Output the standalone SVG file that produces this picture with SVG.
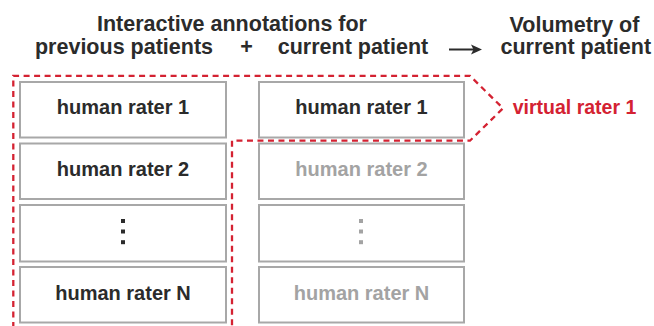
<svg xmlns="http://www.w3.org/2000/svg" width="654" height="326" viewBox="0 0 654 326">
<style>
text{font-family:"Liberation Sans",Arial,sans-serif;font-weight:bold}
.title{font-size:21.5px;fill:#2b2b2b;text-anchor:middle}
.lbl{font-size:20px;text-anchor:middle}
.dark{fill:#2b2b2b}
.grey{fill:#a3a3a3}
.box{fill:#ffffff;stroke:#a8a8a8;stroke-width:2}
.red{fill:none;stroke:#d42232;stroke-width:2.3;stroke-dasharray:6 4.5}
</style>
<rect width="654" height="326" fill="#ffffff"/>
<g id="titles">
<text class="title" x="232" y="31">Interactive annotations for</text>
<text class="title" x="124" y="54.3">previous patients</text>
<text class="title" x="246.5" y="54.3">+</text>
<text class="title" x="353" y="54.3">current patient</text>
<text class="title" x="574.5" y="31.5">Volumetry of</text>
<text class="title" x="575.8" y="54.3">current patient</text>
</g>
<g id="left-r1"><rect class="box" x="20" y="82" width="206" height="55.5"/><text class="lbl dark" x="123" y="114">human rater 1</text></g>
<g id="left-r2"><rect class="box" x="20" y="143.5" width="206" height="55.5"/><text class="lbl dark" x="123" y="176">human rater 2</text></g>
<g id="left-dots"><rect class="box" x="20" y="205" width="206" height="56.5"/>
<rect x="121" y="219" width="4" height="4" fill="#2b2b2b"/><rect x="121" y="229.5" width="4" height="4" fill="#2b2b2b"/><rect x="121" y="240.2" width="4" height="4" fill="#2b2b2b"/></g>
<g id="left-rN"><rect class="box" x="20" y="267" width="206" height="55.5"/><text class="lbl dark" x="123" y="300">human rater N</text></g>
<g id="right-r1"><rect class="box" x="259" y="82" width="205" height="55.5"/><text class="lbl dark" x="361.5" y="114">human rater 1</text></g>
<g id="right-r2"><rect class="box" x="259" y="143.5" width="205" height="55.5"/><text class="lbl grey" x="361.5" y="176">human rater 2</text></g>
<g id="right-dots"><rect class="box" x="259" y="205" width="205" height="56.5"/>
<rect x="359" y="219" width="4" height="4" fill="#a3a3a3"/><rect x="359" y="229.5" width="4" height="4" fill="#a3a3a3"/><rect x="359" y="240.2" width="4" height="4" fill="#a3a3a3"/></g>
<g id="right-rN"><rect class="box" x="259" y="267" width="205" height="55.5"/><text class="lbl grey" x="361.5" y="300">human rater N</text></g>
<g id="virtual-rater">
<path class="red" d="M13.3,328 V75.8 H470 L503,108.3 L470,140.7 H232 V328"/>
<text x="574.5" y="113.5" font-size="19.5" text-anchor="middle" fill="#d42232">virtual rater 1</text>
</g>
<g id="connectors">
<line x1="449" y1="49.5" x2="474" y2="49.5" stroke="#2b2b2b" stroke-width="2"/>
<path d="M482,49.5 L471,44.5 L473.5,49.5 L471,54.5 Z" fill="#2b2b2b"/>
</g>
</svg>
